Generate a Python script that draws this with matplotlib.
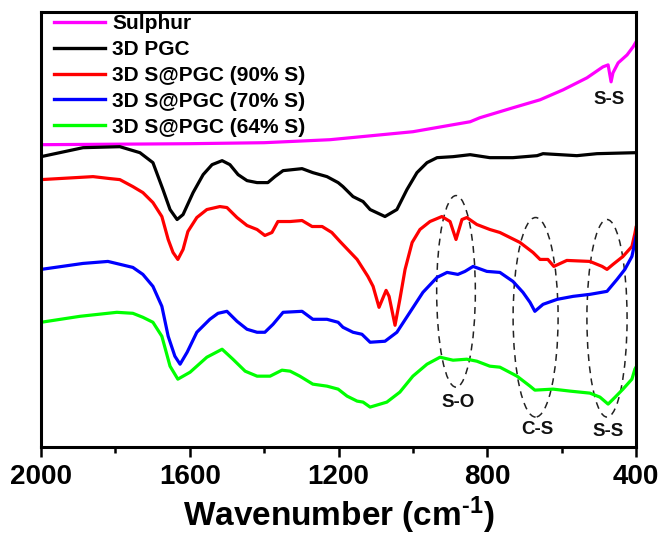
import matplotlib
matplotlib.use("Agg")
import matplotlib.pyplot as plt
from matplotlib.patches import Ellipse
from matplotlib.ticker import MultipleLocator

plt.rcParams['font.family'] = ['Liberation Sans', 'DejaVu Sans']
plt.rcParams['font.weight'] = 'bold'
plt.rcParams['mathtext.fontset'] = 'custom'
plt.rcParams['mathtext.rm'] = 'Liberation Sans:bold'
plt.rcParams['mathtext.bf'] = 'Liberation Sans:bold'
plt.rcParams['mathtext.default'] = 'bf'

# ---- data (wavenumber, cm-1 ; transmittance in a.u.) ----
sulphur_w = [2000, 1800, 1600, 1400, 1223, 1000, 846, 820, 731, 658, 596, 532, 489, 475, 467, 462, 448,
             424, 408, 400]
sulphur_t = [303, 303.5, 304, 305, 308, 316, 326, 330, 340, 348, 358, 370, 381, 383, 366, 375, 385,
             393, 401, 406]

pgc_w = [2000, 1887, 1788, 1734, 1699, 1672, 1653, 1634, 1618, 1591, 1564, 1540, 1513, 1492, 1470, 1446,
         1419, 1390, 1371, 1349, 1298, 1269, 1231, 1201, 1188, 1161, 1134, 1115, 1075, 1043, 1016, 989,
         962, 935, 892, 846, 793, 731, 666, 650, 559, 505, 400]
pgc_t = [291, 300, 301, 295, 285, 258, 238, 228, 233, 255, 273, 283, 287, 283, 273, 267,
         265, 265, 271, 277, 279, 275, 271, 265, 261, 251, 246, 238, 231, 238, 258, 275,
         285, 290, 291, 293, 290, 290, 292, 294, 292, 294, 295]

s90_w = [2000, 1860, 1814, 1788, 1753, 1726, 1699, 1675, 1658, 1645, 1632, 1618, 1605, 1581, 1554, 1519,
         1500, 1473, 1446, 1419, 1398, 1379, 1363, 1330, 1298, 1271, 1244, 1218, 1196, 1150, 1121, 1107,
         1091, 1072, 1064, 1048, 1035, 1021, 1002, 981, 954, 922, 900, 884, 868, 855, 828, 793,
         766, 712, 677, 658, 637, 621, 586, 524, 491, 478, 462, 435, 411, 403, 400]
s90_t = [268, 271, 269, 268, 261, 255, 245, 231, 208, 195, 188, 198, 216, 230, 238, 241,
         240, 230, 222, 218, 212, 215, 226, 226, 227, 221, 221, 215, 206, 188, 171, 161,
         140, 157, 151, 122, 148, 178, 205, 218, 226, 231, 226, 208, 228, 230, 223, 218,
         215, 205, 195, 188, 188, 181, 187, 186, 181, 178, 183, 191, 201, 214, 220]

s70_w = [2000, 1887, 1820, 1753, 1726, 1699, 1675, 1658, 1640, 1626, 1607, 1581, 1546, 1524, 1500, 1473,
         1446, 1419, 1398, 1376, 1349, 1298, 1269, 1231, 1201, 1188, 1161, 1137, 1115, 1075, 1043, 1008,
         973, 935, 908, 879, 860, 838, 801, 766, 731, 704, 685, 672, 650, 612, 569, 524,
         478, 451, 430, 411, 403, 400]
s70_t = [178, 184, 186, 180, 173, 161, 141, 111, 91, 83, 95, 115, 128, 134, 136, 126,
         118, 115, 115, 123, 135, 136, 128, 128, 125, 120, 115, 113, 105, 106, 115, 135,
         155, 170, 175, 173, 176, 181, 176, 175, 166, 155, 145, 136, 143, 148, 151, 153,
         156, 168, 178, 191, 205, 211]

s64_w = [2000, 1895, 1796, 1753, 1726, 1699, 1675, 1653, 1632, 1599, 1554, 1513, 1484, 1451, 1419, 1384,
         1352, 1330, 1304, 1269, 1231, 1201, 1177, 1150, 1134, 1115, 1070, 1035, 1000, 962, 927, 892,
         855, 828, 793, 766, 720, 685, 672, 623, 577, 524, 497, 475, 456, 435, 411, 403, 400]
s64_t = [125, 131, 135, 134, 130, 125, 111, 81, 68, 75, 90, 98, 88, 76, 71, 71,
         77, 76, 71, 63, 61, 58, 51, 46, 45, 40, 45, 55, 71, 83, 90, 87,
         88, 86, 81, 80, 71, 61, 57, 58, 56, 54, 50, 43, 50, 58, 68, 78, 80]

series = [
    ("Sulphur", sulphur_w, sulphur_t, "#ff00ff"),
    ("3D PGC", pgc_w, pgc_t, "#000000"),
    ("3D S@PGC (90% S)", s90_w, s90_t, "#ff0000"),
    ("3D S@PGC (70% S)", s70_w, s70_t, "#0000ff"),
    ("3D S@PGC (64% S)", s64_w, s64_t, "#00ff00"),
]

# bond regions (center wavenumber, center t, width, height)
regions = [("S-O", 884, 156, 104, 192), ("C-S", 670, 130, 121, 200), ("S-S", 478, 129, 108, 198)]
region_labels = [("S-O", 879, 45), ("C-S", 666, 18), ("S-S", 475, 16), ("S-S", 472, 348)]

xticks = [2000, 1600, 1200, 800, 400]

# ---- figure ----
fig = plt.figure(figsize=(6.6, 5.38), dpi=100)
ax = fig.add_axes([41 / 660, 1 - 447 / 538, 595 / 660, 435 / 538])

for name, w, t, c in series:
    ax.plot(w, t, color=c, lw=2.3, label=name, solid_joinstyle='round')

for name, cx, cy, wd, ht in regions:
    ax.add_patch(Ellipse((cx, cy), wd, ht, fill=False, ls=(0, (4.5, 3.5)), lw=1.1, color='#222222'))

for txt, x, y in region_labels:
    ax.text(x, y, txt, ha='center', va='center', fontsize=13.5, fontweight='bold', color='#111111')

ax.set_xlim(2000, 400)
ax.set_ylim(0, 436)
ax.set_xticks(xticks)
ax.xaxis.set_minor_locator(MultipleLocator(200))
ax.set_yticks([])
ax.tick_params(axis='x', which='major', direction='out', length=7.5, width=1.8, labelsize=20, pad=5)
ax.tick_params(axis='x', which='minor', direction='out', length=4.5, width=1.8)
for lab in ax.get_xticklabels():
    lab.set_fontweight('bold')
for s in ax.spines.values():
    s.set_linewidth(2.2)

ax.set_xlabel(r'Wavenumber (cm$^{\text{-1}}$)', fontsize=24, fontweight='bold', labelpad=3)

leg = ax.legend(loc='upper left', bbox_to_anchor=(0.018, 1.0), frameon=False, fontsize=15,
                handlelength=2.45, handletextpad=0.35, labelspacing=0.33, borderpad=0.1,
                borderaxespad=0.0)
for line in leg.get_lines():
    line.set_linewidth(2.4)
for t in leg.get_texts():
    t.set_fontweight('bold')

fig.savefig("out.png", dpi=100)
